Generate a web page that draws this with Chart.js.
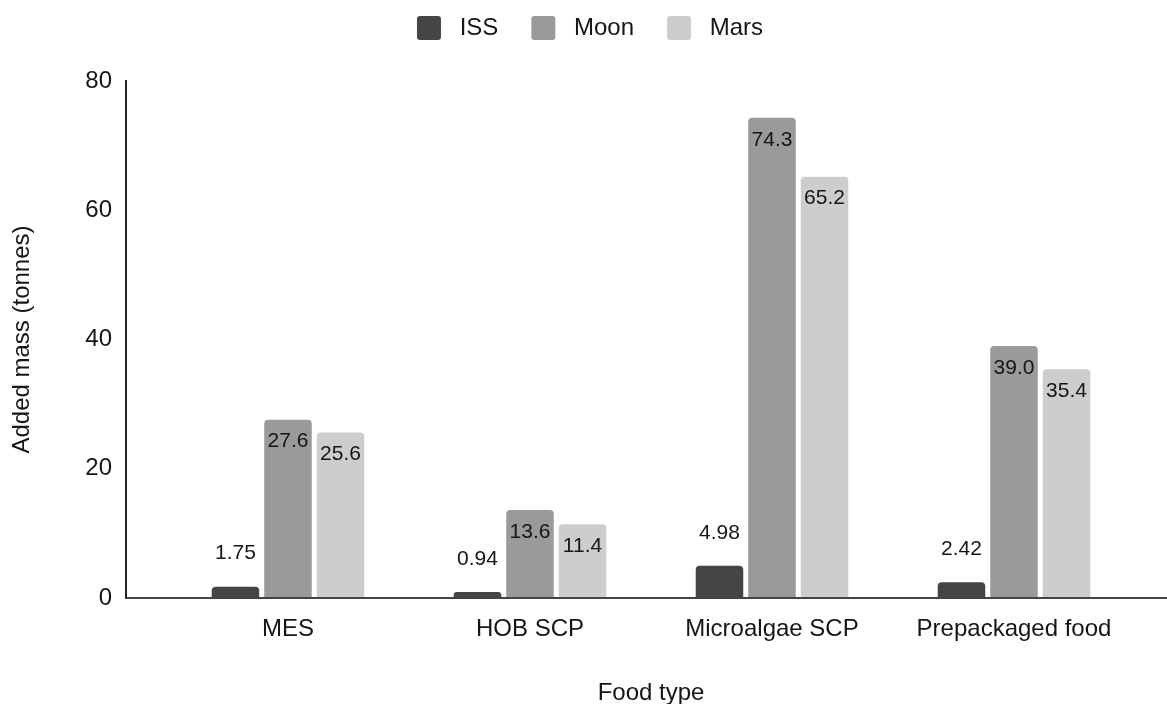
<!DOCTYPE html>
<html>
<head>
<meta charset="utf-8">
<script src="https://cdn.jsdelivr.net/npm/chart.js@4.4.1/dist/chart.umd.min.js"></script>
<style>
  html, body { margin: 0; padding: 0; background: #fff; }
  #wrap { width: 1167px; height: 704px; }
</style>
</head>
<body>
<div id="wrap"><canvas id="chart" width="1167" height="704"></canvas></div>
<script>
const categories = ['MES', 'HOB SCP', 'Microalgae SCP', 'Prepackaged food'];
const issValues = [1.75, 0.94, 4.98, 2.42];
const moonValues = [27.6, 13.6, 74.3, 39.0];
const marsValues = [25.6, 11.4, 65.2, 35.4];
const seriesNames = ['ISS', 'Moon', 'Mars'];
const seriesDecimals = [2, 1, 1];
const yTicks = [0, 20, 40, 60, 80];

const FONT = '"Liberation Sans", Arial, sans-serif';
const TEXT = '#151515';

// legend needs more room below than chart.js gives it
const legendHeight = {
  id: 'legendHeight',
  beforeInit(chart) {
    const fit = chart.legend.fit;
    chart.legend.fit = function () {
      fit.bind(chart.legend)();
      this.height = 98;
    };
  }
};

// bar value labels: inside the top for tall bars, above for short ones
const valueLabels = {
  id: 'valueLabels',
  afterDatasetsDraw(chart) {
    const ctx = chart.ctx;
    ctx.save();
    ctx.font = '21px ' + FONT;
    ctx.fillStyle = TEXT;
    ctx.textAlign = 'center';
    ctx.textBaseline = 'middle';
    chart.data.datasets.forEach((ds, i) => {
      const meta = chart.getDatasetMeta(i);
      meta.data.forEach((bar, j) => {
        const txt = ds.data[j].toFixed(seriesDecimals[i]);
        const h = bar.base - bar.y;
        const y = h > 45 ? bar.y + 22 : bar.y - 33;
        ctx.fillText(txt, bar.x, y);
      });
    });
    ctx.restore();
  }
};

// axis lines drawn by hand, they run past the category area
const axisLines = {
  id: 'axisLines',
  afterDatasetsDraw(chart) {
    const ctx = chart.ctx;
    const area = chart.chartArea;
    const y0 = chart.scales.y.getPixelForValue(0);
    const yTop = chart.scales.y.getPixelForValue(80);
    const xLeft = area.left - 41;
    ctx.save();
    ctx.lineWidth = 2;
    ctx.strokeStyle = '#444';
    ctx.beginPath();
    ctx.moveTo(xLeft - 1, y0);
    ctx.lineTo(chart.width, y0);
    ctx.stroke();
    ctx.strokeStyle = '#222';
    ctx.beginPath();
    ctx.moveTo(xLeft, yTop - 1);
    ctx.lineTo(xLeft, y0);
    ctx.stroke();
    ctx.restore();
  }
};

const colors = ['#454545', '#9a9a9a', '#cdcdcd'];
const allValues = [issValues, moonValues, marsValues];

new Chart(document.getElementById('chart'), {
  type: 'bar',
  data: {
    labels: categories,
    datasets: seriesNames.map((name, i) => ({
      label: name,
      data: allValues[i],
      backgroundColor: colors[i],
      borderWidth: 0,
      borderRadius: { topLeft: 4, topRight: 4, bottomLeft: 0, bottomRight: 0 },
      borderSkipped: false,
      categoryPercentage: 0.651,
      barPercentage: 0.905
    }))
  },
  options: {
    responsive: false,
    animation: false,
    layout: { padding: { top: -17, left: 45, right: 32, bottom: 0 } },
    plugins: {
      legend: {
        position: 'top',
        labels: {
          font: { size: 24, family: FONT },
          color: TEXT,
          boxWidth: 24,
          boxHeight: 24,
          useBorderRadius: true,
          borderRadius: 3,
          padding: 33,
          generateLabels(chart) {
            const items = Chart.defaults.plugins.legend.labels.generateLabels(chart);
            items.forEach(it => { it.text = ' ' + it.text; it.lineWidth = 0; });
            return items;
          }
        }
      },
      tooltip: { enabled: false }
    },
    scales: {
      x: {
        grid: { display: false },
        border: { display: false },
        ticks: {
          font: { size: 24, family: FONT },
          color: TEXT,
          padding: 9,
          maxRotation: 0,
          autoSkip: false
        },
        title: {
          display: true,
          text: 'Food type',
          font: { size: 24, family: FONT },
          color: TEXT,
          padding: { top: 0, bottom: -4 }
        },
        afterFit(scale) { scale.height = 106; }
      },
      y: {
        min: 0,
        max: 80,
        grid: { display: false, drawTicks: false },
        border: { display: false },
        afterBuildTicks(scale) { scale.ticks = yTicks.map(v => ({ value: v })); },
        ticks: {
          font: { size: 24, family: FONT },
          color: TEXT,
          padding: 55
        },
        title: {
          display: true,
          text: 'Added mass (tonnes)',
          font: { size: 24, family: FONT },
          color: TEXT,
          padding: { top: -37, bottom: 0 }
        },
        afterFit(scale) { scale.width = 122; }
      }
    }
  },
  plugins: [legendHeight, valueLabels, axisLines]
});
</script>
</body>
</html>
